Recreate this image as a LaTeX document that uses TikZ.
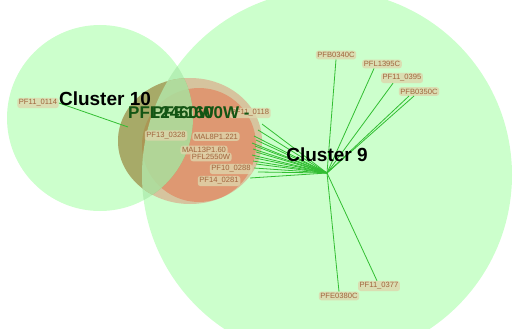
\documentclass[tikz,border=0pt]{standalone}
\usepackage{fontspec}
\setmainfont{Liberation Sans}
\usepackage{xcolor}
\usetikzlibrary{positioning}
\definecolor{clusterGreen}{RGB}{204,255,204}
\definecolor{lensGreen}{RGB}{180,240,180}
\definecolor{ringTan}{RGB}{214,196,158}
\definecolor{coreOrange}{RGB}{222,152,114}
\definecolor{oliveTint}{RGB}{130,150,60}
\definecolor{linkGreen}{RGB}{50,190,50}
\definecolor{tagFill}{RGB}{222,214,172}
\definecolor{tagText}{RGB}{160,100,60}
\definecolor{hubText}{RGB}{20,85,20}
\tikzset{
    geneTag/.style={rounded corners=2.5pt, fill=tagFill, fill opacity=0.8, text opacity=1,
        text=tagText, inner sep=1.6pt, font=\fontsize{7.6}{8}\selectfont},
    clusterName/.style={inner sep=0pt, font=\fontsize{19}{20}\selectfont\bfseries},
    memberLink/.style={draw=linkGreen, line width=0.8pt},
    hubName/.style={inner sep=0pt, text=hubText, font=\fontsize{17}{18}\selectfont\bfseries}
}

\begin{document}
\begin{tikzpicture}[x=1pt, y=-1pt]
    \useasboundingbox (0,0) rectangle (514,329);
    \clip (0,0) rectangle (514,329);
    \coordinate (c9) at (327,175);  \coordinate (c10) at (100,118);
    \coordinate (hub) at (327,173); \coordinate (hubTen) at (128,127);
    % cluster discs
    \fill[clusterGreen] (c9) circle (185pt);
    \fill[clusterGreen] (c10) circle (93pt);
    \begin{scope}
        \clip (c9) circle (185pt);
        \fill[lensGreen] (c10) circle (93pt);
    \end{scope}
    % central blob
    \fill[ringTan] (190,141) ellipse (72pt and 63pt);
    \fill[coreOrange] (199,145) circle (57pt);
    \begin{scope}
        \clip (c10) circle (93pt);
        \fill[oliveTint, opacity=0.55] (190,141) ellipse (72pt and 63pt);
        \clip (c9) circle (185pt);
        \fill[lensGreen, opacity=0.7] (190,141) ellipse (72pt and 63pt);
    \end{scope}
    % fan into the blob
    \foreach \yy/\xx in {124/262, 130/258, 136/254, 140/256, 143/252, 146/255, 149/253,
        152/256, 155/252, 158/255, 161/253, 164/256, 168/254, 172/258, 178/250}{
        \coordinate (m\yy) at (\xx,\yy);
        \draw[memberLink] (hub) -- (m\yy);
    }
    % tags
    \node[geneTag] (PF110114) at (38,103) {PF11\_0114};
    \node[geneTag] (PFB0340C) at (336,55) {PFB0340C};
    \node[geneTag] (PFL1395C) at (382,64) {PFL1395C};
    \node[geneTag] (PF110395) at (402,78) {PF11\_0395};
    \node[geneTag] (PFB0350C) at (419,91.5) {PFB0350C};
    \node[geneTag] (PF110377) at (379,286) {PF11\_0377};
    \node[geneTag] (PFE0380C) at (339,296) {PFE0380C};
    \draw[memberLink] (PF110114.east) -- (hubTen);
    \draw[memberLink] (hub) -- (PFB0340C.south);
    \draw[memberLink] (hub) -- ([xshift=-8pt]PFL1395C.south);
    \draw[memberLink] (hub) -- ([xshift=-9pt]PF110395.south);
    \draw[memberLink] (hub) -- ([xshift=-10pt]PFB0350C.south);
    \draw[memberLink] (hub) -- ([xshift=-5pt]PFB0350C.south);
    \draw[memberLink] (hub) -- ([xshift=-2pt]PF110377.north);
    \draw[memberLink] (hub) -- (PFE0380C.north);
    \node[geneTag] (PF110118) at (250,113) {PF11\_0118};
    \node[geneTag] (PF130328) at (166,135.5) {PF13\_0328};
    \node[geneTag] (MAL8P1221) at (216,136.5) {MAL8P1.221};
    \node[geneTag] (MAL13P160) at (204,150) {MAL13P1.60};
    \node[geneTag] (PFL2550W) at (211,157) {PFL2550W};
    \node[geneTag] (PF100288) at (231,169) {PF10\_0288};
    \node[geneTag] (PF140281) at (219,181) {PF14\_0281};
    % names
    \node[hubName, anchor=west] (hubA) at (128,113) {PFL2460W};
    \node[hubName, anchor=west] (hubB) at (152,113) {PFE1600W -};
    \node[clusterName] (nameTen) at (105,99) {Cluster 10};
    \node[clusterName, above=11pt of hub] (nameNine) {Cluster 9};
\end{tikzpicture}
\end{document}
